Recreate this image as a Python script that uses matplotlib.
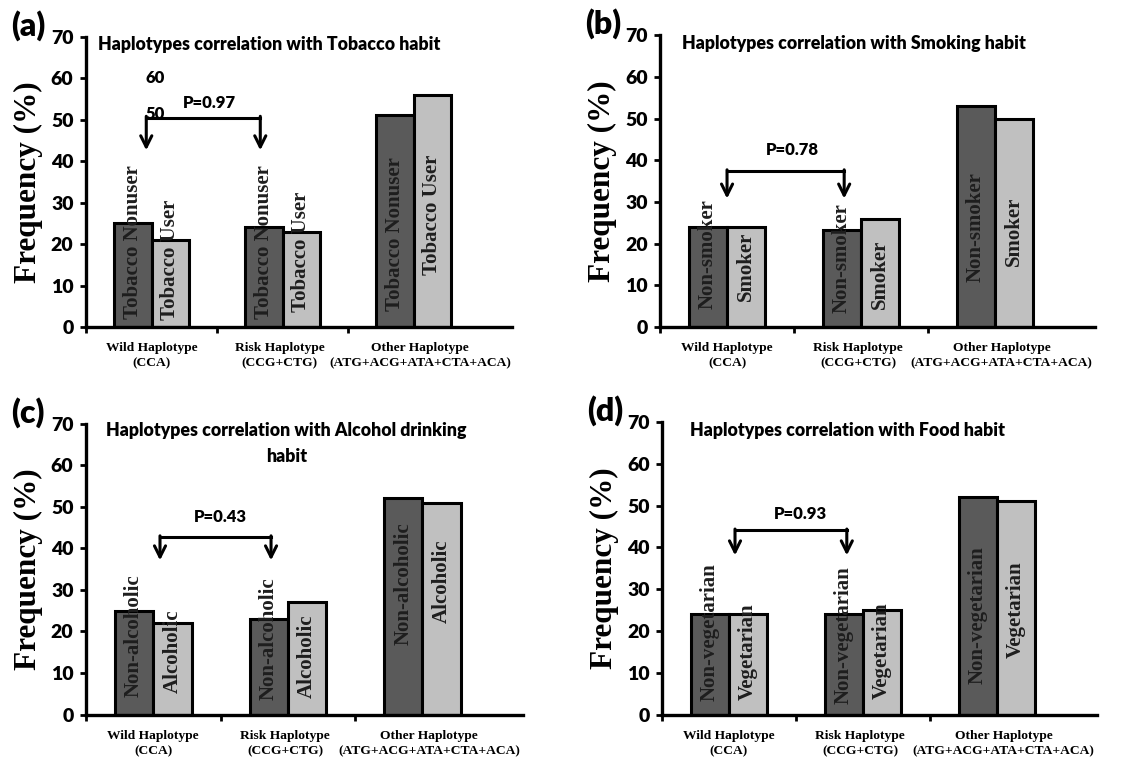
import numpy as np
import matplotlib
matplotlib.use("Agg")
import matplotlib.pyplot as plt

# ----------------------------
# data
# ----------------------------
groups = ["Wild Haplotype\n(CCA)", "Risk Haplotype\n(CCG+CTG)", "Other Haplotype\n(ATG+ACG+ATA+CTA+ACA)"]

panel_tags = ["(a)", "(b)", "(c)", "(d)"]
titles = [
    "Haplotypes correlation with Tobacco habit",
    "Haplotypes correlation with Smoking habit",
    "Haplotypes correlation with Alcohol drinking\nhabit",
    "Haplotypes correlation with Food habit",
]
series_names = [
    ("Tobacco Nonuser", "Tobacco User"),
    ("Non-smoker", "Smoker"),
    ("Non-alcoholic", "Alcoholic"),
    ("Non-vegetarian", "Vegetarian"),
]
tobacco_nonuser = [25, 24, 51]
tobacco_user = [21, 23, 56]
non_smoker = [24, 23.3, 53]
smoker = [24, 26, 50]
non_alcoholic = [25, 23, 52]
alcoholic = [22, 27, 51]
non_vegetarian = [24, 24, 52]
vegetarian = [24, 25, 51]
p_values = ["P=0.97", "P=0.78", "P=0.43", "P=0.93"]

values = [
    (tobacco_nonuser, tobacco_user),
    (non_smoker, smoker),
    (non_alcoholic, alcoholic),
    (non_vegetarian, vegetarian),
]

# ----------------------------
# layout (figure fractions, label centres, bracket geometry)
# ----------------------------
axes_rects = [
    [0.0749, 0.572, 0.371, 0.380],
    [0.5750, 0.572, 0.379, 0.382],
    [0.0749, 0.0646, 0.381, 0.381],
    [0.5767, 0.0646, 0.379, 0.383],
]
title_pos = [(0.09, 68.0, "left"), (0.16, 68.0, "left"), (1.49, 65.3, "center"), (0.21, 68.0, "left")]
group_label_shift = [0.0, -0.02, 0.05]
label_y = [
    [(20.5, 16.3), (20.5, 18.1), (22.5, 27.0)],
    [(17.4, 14.6), (16.6, 12.6), (24.0, 23.0)],
    [(18.9, 15.3), (18.3, 14.1), (31.5, 32.1)],
    [(19.8, 15.0), (19.0, 15.2), (23.8, 25.2)],
]
# x_left, x_right, top, tip, p_x, p_y
brackets = [
    (0.46, 1.33, 50.5, 42.6, 0.94, 53.9),
    (0.50, 1.375, 37.4, 30.8, 0.985, 42.4),
    (0.55, 1.375, 42.7, 37.1, 1.00, 47.6),
    (0.545, 1.38, 44.1, 38.1, 1.03, 48.1),
]

DARK = "#5a5a5a"
LIGHT = "#c0c0c0"
SANS = "Lato"
SERIF = "Liberation Serif"
W = 0.285

fig = plt.figure(figsize=(11.48, 7.64), dpi=100)

for i in range(4):
    ax = fig.add_axes(axes_rects[i])
    a_vals, b_vals = values[i]
    x = np.arange(len(groups)) + 0.5
    ax.bar(x - W / 2, a_vals, W, color=DARK, edgecolor="black", linewidth=2.2, zorder=2)
    ax.bar(x + W / 2, b_vals, W, color=LIGHT, edgecolor="black", linewidth=2.2, zorder=2)

    for j in range(len(groups)):
        ya, yb = label_y[i][j]
        ax.text(x[j] - W / 2, ya, series_names[i][0], rotation=90, ha="center", va="center",
                fontsize=15, fontweight="bold", family=SERIF, color="#1e1e1e", zorder=3)
        ax.text(x[j] + W / 2, yb, series_names[i][1], rotation=90, ha="center", va="center",
                fontsize=15, fontweight="bold", family=SERIF, color="#1e1e1e", zorder=3)
        ax.text(x[j] + group_label_shift[j], -3.6, groups[j], ha="center", va="top",
                fontsize=9.7, fontweight="bold", family=SERIF, linespacing=1.4)

    ax.set_xlim(0, 3.25)
    ax.set_ylim(0, 70)
    ax.set_xticks([0, 1, 2])
    ax.set_xticklabels([])
    ax.set_yticks(range(0, 71, 10))
    ax.set_yticklabels([str(v) for v in range(0, 71, 10)], fontsize=14,
                       fontweight="heavy", family=SANS)
    ax.tick_params(axis="both", direction="out", width=2, length=4, pad=5)
    ax.spines["top"].set_visible(False)
    ax.spines["right"].set_visible(False)
    ax.spines["left"].set_linewidth(2.4)
    ax.spines["bottom"].set_linewidth(2.4)

    ax.set_ylabel("Frequency (%)", fontsize=22.5, fontweight="bold", family=SERIF, labelpad=6)

    tx, ty, tha = title_pos[i]
    ax.text(tx, ty, titles[i], ha=tha, va="center", fontsize=12.75,
            fontweight="heavy", family=SANS, linespacing=1.65)

    xl, xr, top, tip, px, py = brackets[i]
    ax.plot([xl, xr], [top, top], color="black", lw=2.2, zorder=4)
    for xx in (xl, xr):
        ax.annotate("", xy=(xx, tip), xytext=(xx, top + 0.3),
                    arrowprops=dict(arrowstyle="->,head_length=0.8,head_width=0.4",
                                    lw=2.2, color="black", shrinkA=0, shrinkB=0))
    ax.text(px, py, p_values[i], ha="center", va="center", fontsize=12,
            fontweight="heavy", family=SANS)

    # leftover tick labels that sit inside panel (a)
    if i == 0:
        ax.text(0.53, 60, "60", ha="center", va="center", fontsize=12,
                fontweight="heavy", family=SANS)
        ax.text(0.53, 51.3, "50", ha="center", va="center", fontsize=12,
                fontweight="heavy", family=SANS)

    fig.text(axes_rects[i][0] - 0.065, axes_rects[i][1] + axes_rects[i][3] + 0.015,
             panel_tags[i], ha="left", va="center", fontsize=23, fontweight="heavy",
             family=SANS)

fig.savefig("out.png", dpi=100)
